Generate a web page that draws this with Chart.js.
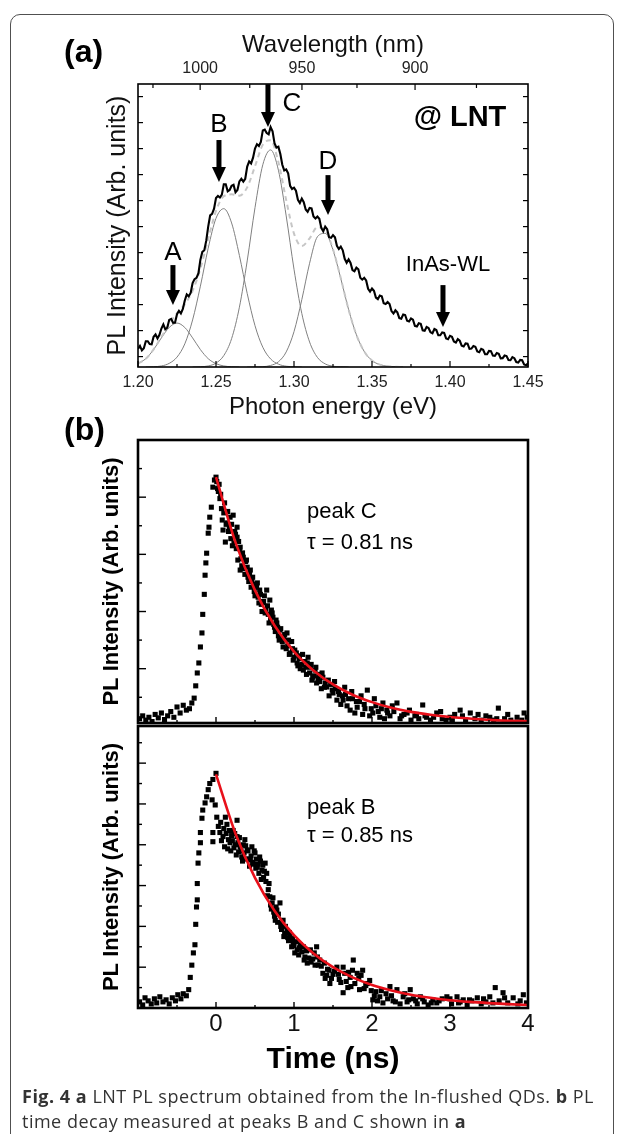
<!DOCTYPE html>
<html><head><meta charset="utf-8">
<script src="https://cdn.jsdelivr.net/npm/chart.js@4.4.0/dist/chart.umd.min.js"></script>
<style>
html,body{margin:0;padding:0;background:#fff;}
body{width:624px;height:1134px;position:relative;overflow:hidden;font-family:"Liberation Sans",Arial,sans-serif;}
canvas{position:absolute;left:0;top:0;width:624px;height:1134px;}
#box{position:absolute;left:10px;top:14px;width:604px;height:1160px;border:1.5px solid #505050;border-radius:10px;box-sizing:border-box;}
.plabel{position:absolute;font-weight:bold;font-size:32px;line-height:32px;color:#000;}
#caption{position:absolute;left:22px;top:1084px;font-family:"Open Sans",sans-serif;font-size:18px;letter-spacing:0.5px;line-height:25px;color:#333;white-space:nowrap;}
</style></head>
<body>
<div id="box"></div>
<canvas id="cA" width="624" height="1134"></canvas>
<canvas id="cB" width="624" height="1134"></canvas>
<canvas id="cC" width="624" height="1134"></canvas>
<div class="plabel" style="left:64px;top:35px">(a)</div>
<div class="plabel" style="left:64px;top:413px">(b)</div>
<div id="caption"><b>Fig. 4 a</b> LNT PL spectrum obtained from the In-flushed QDs. <b>b</b> PL<br>time decay measured at peaks B and C shown in <b>a</b></div>
<script>
// ---------------- Panel (a): PL spectrum ----------------
const energyEV = [
1.20000,1.20125,1.20250,1.20375,1.20500,1.20625,1.20750,1.20875,1.21000,1.21125,
1.21250,1.21375,1.21500,1.21625,1.21750,1.21875,1.22000,1.22125,1.22250,1.22375,
1.22500,1.22625,1.22750,1.22875,1.23000,1.23125,1.23250,1.23375,1.23500,1.23625,
1.23750,1.23875,1.24000,1.24125,1.24250,1.24375,1.24500,1.24625,1.24750,1.24875,
1.25000,1.25125,1.25250,1.25375,1.25500,1.25625,1.25750,1.25875,1.26000,1.26125,
1.26250,1.26375,1.26500,1.26625,1.26750,1.26875,1.27000,1.27125,1.27250,1.27375,
1.27500,1.27625,1.27750,1.27875,1.28000,1.28125,1.28250,1.28375,1.28500,1.28625,
1.28750,1.28875,1.29000,1.29125,1.29250,1.29375,1.29500,1.29625,1.29750,1.29875,
1.30000,1.30125,1.30250,1.30375,1.30500,1.30625,1.30750,1.30875,1.31000,1.31125,
1.31250,1.31375,1.31500,1.31625,1.31750,1.31875,1.32000,1.32125,1.32250,1.32375,
1.32500,1.32625,1.32750,1.32875,1.33000,1.33125,1.33250,1.33375,1.33500,1.33625,
1.33750,1.33875,1.34000,1.34125,1.34250,1.34375,1.34500,1.34625,1.34750,1.34875,
1.35000,1.35125,1.35250,1.35375,1.35500,1.35625,1.35750,1.35875,1.36000,1.36125,
1.36250,1.36375,1.36500,1.36625,1.36750,1.36875,1.37000,1.37125,1.37250,1.37375,
1.37500,1.37625,1.37750,1.37875,1.38000,1.38125,1.38250,1.38375,1.38500,1.38625,
1.38750,1.38875,1.39000,1.39125,1.39250,1.39375,1.39500,1.39625,1.39750,1.39875,
1.40000,1.40125,1.40250,1.40375,1.40500,1.40625,1.40750,1.40875,1.41000,1.41125,
1.41250,1.41375,1.41500,1.41625,1.41750,1.41875,1.42000,1.42125,1.42250,1.42375,
1.42500,1.42625,1.42750,1.42875,1.43000,1.43125,1.43250,1.43375,1.43500,1.43625,
1.43750,1.43875,1.44000,1.44125,1.44250,1.44375,1.44500,1.44625,1.44750,1.44875,
1.45000];
const plIntensity = [
0.70,0.81,0.64,0.72,0.99,0.99,0.88,0.87,1.16,1.25,
1.10,1.24,1.48,1.64,1.45,1.51,1.81,1.85,1.70,1.71,
2.03,2.16,2.06,2.23,2.56,2.79,2.72,2.85,3.23,3.38,
3.43,3.61,4.13,4.43,4.49,4.86,5.40,5.83,5.89,6.09,
6.50,6.58,6.52,6.63,7.03,7.03,6.76,6.81,6.97,7.01,
6.72,6.81,7.14,7.24,7.13,7.24,7.71,7.91,7.83,8.05,
8.40,8.57,8.50,8.66,9.10,9.13,9.00,8.95,9.23,9.07,
8.61,8.44,8.47,8.19,7.78,7.56,7.60,7.45,6.97,6.85,
6.90,6.78,6.43,6.31,6.48,6.34,6.06,5.97,6.12,6.10,
5.79,5.71,5.79,5.70,5.35,5.22,5.40,5.30,4.99,4.97,
5.07,4.99,4.66,4.54,4.63,4.49,4.16,4.01,4.14,4.00,
3.73,3.68,3.82,3.76,3.43,3.36,3.43,3.33,3.01,2.90,
3.02,2.93,2.67,2.61,2.75,2.72,2.45,2.42,2.50,2.42,
2.15,2.06,2.18,2.10,1.88,1.86,2.02,2.00,1.78,1.75,
1.87,1.82,1.58,1.56,1.68,1.66,1.41,1.39,1.54,1.50,
1.34,1.30,1.46,1.42,1.22,1.22,1.33,1.31,1.10,1.07,
1.20,1.16,0.98,0.94,1.07,1.01,0.82,0.79,0.91,0.90,
0.70,0.71,0.81,0.78,0.60,0.57,0.70,0.66,0.49,0.49,
0.62,0.61,0.44,0.43,0.54,0.51,0.33,0.34,0.44,0.42,
0.27,0.26,0.38,0.34,0.19,0.17,0.27,0.26,0.10,0.07,
0.14];
const fitEnergyEV = [1.200,1.205,1.210,1.215,1.220,1.225,1.230,1.235,1.240,1.245,1.250,1.255,1.260,1.265,1.270,1.275,1.280,1.285,1.290,1.295,1.300,1.305,1.310,1.315,1.320,1.325,1.330,1.335,1.340,1.345,1.350,1.355,1.360,1.365,1.370];
const peakA = [0.13,0.32,0.67,1.12,1.52,1.69,1.52,1.12,0.67,0.32,0.13,0.04,0.01,0.00,null,null,null,null,null,null,null,null,null,null,null,null,null,null,null,null,null,null,null,null,null];
const peakB = [null,0.00,0.01,0.04,0.14,0.38,0.89,1.81,3.11,4.57,5.72,6.09,5.54,4.29,2.83,1.59,0.76,0.31,0.11,0.03,0.01,0.00,null,null,null,null,null,null,null,null,null,null,null,null,null];
const peakC = [null,null,null,null,null,null,null,0.00,0.01,0.04,0.15,0.44,1.09,2.30,4.08,6.13,7.78,8.35,7.57,5.81,3.76,2.06,0.96,0.37,0.12,0.03,0.01,0.00,null,null,null,null,null,null,null];
const peakD = [null,null,null,null,null,null,null,null,null,null,null,null,null,null,0.00,0.00,0.01,0.06,0.20,0.58,1.36,2.59,3.99,5.01,5.14,4.50,3.40,2.21,1.24,0.60,0.25,0.09,0.03,0.01,0.00];
const peakSum = [0.13,0.32,0.68,1.16,1.66,2.07,2.41,2.93,3.79,4.93,6.00,6.57,6.64,6.59,6.91,7.72,8.55,8.72,7.88,6.42,5.13,4.65,4.95,5.38,5.26,4.53,3.41,2.21,1.24,0.60,0.25,0.09,0.03,0.01,0.00];
const energyTicks = [1.20,1.25,1.30,1.35,1.40,1.45];
const energyMinorTicks = [1.225,1.275,1.325,1.375,1.425];
const wavelengthLabels = [1000,950,900];
const wavelengthMinor = [1025,975,925,875];
const intensityTicksA = [0.4,1.4,2.4,3.4,4.4,5.4,6.4,7.4,8.4,9.4,10.4];
// annotations of panel (a), in data units: [energy, top, tip]
const arrowsA = [[1.2224,3.92,2.38],[1.2519,8.73,7.12],[1.2833,10.88,9.23],[1.3218,7.38,5.85],[1.3955,3.15,1.54]];
const labelsA = [['A',1.2224,4.38],['B',1.2519,9.31],['C',1.2987,10.12],['D',1.3218,7.88]];

// ---------------- Panel (b): time decays ----------------
const decayPeakC = [
[-0.98,0.25],[-0.94,0.35],[-0.90,0.20],[-0.86,0.30],[-0.82,0.15],[-0.78,0.40],[-0.74,0.28],[-0.70,0.45],[-0.66,0.22],[-0.62,0.35],[-0.58,0.50],[-0.54,0.30],[-0.50,0.66],[-0.46,0.45],[-0.42,0.72],[-0.38,0.55],[-0.34,0.60],[-0.31,0.80],
[-0.28,0.97],[-0.26,1.40],[-0.24,1.85],[-0.22,2.20],[-0.20,2.76],[-0.18,3.25],[-0.17,3.90],[-0.15,4.60],[-0.14,5.27],[-0.13,5.70],[-0.12,6.04],[-0.10,6.74],[-0.09,6.95],[-0.08,7.30],[-0.06,7.65],[-0.04,8.35],[-0.02,8.60],[0.00,8.70],
[0.01,8.55],[0.03,8.20],[0.04,8.45],[0.05,7.95],[0.07,7.60],[0.09,6.85],[0.10,7.45],[0.12,6.43],[0.13,7.05],[0.14,7.10],[0.16,6.80],[0.18,7.30],[0.19,6.55],[0.22,7.37],[0.23,6.40],[0.25,6.70],[0.27,6.95],[0.27,6.60],[0.28,5.80],[0.30,6.20],[0.31,6.25],[0.31,5.45],[0.33,5.60],[0.35,5.90],[0.37,5.30],[0.38,5.75],[0.40,5.55],[0.42,5.05],[0.44,5.45],[0.45,4.85],[0.47,5.20],[0.49,4.70],[0.51,4.95],[0.53,5.00],[0.54,4.50],[0.56,4.75],[0.58,4.25],[0.60,4.30],[0.62,4.55],[0.63,3.95],[0.65,4.75],[0.66,4.20],[0.69,4.40],[0.70,3.75],[0.72,3.95],[0.73,3.80],[0.75,3.45],[0.77,3.70],[0.78,3.60],[0.80,3.15],[0.82,3.35],[0.84,3.05],[0.86,2.76],[0.88,3.20],[0.91,3.25],[0.92,2.80],[0.95,2.55],[0.97,2.95],[0.99,2.30],[1.01,2.65],[1.04,2.20],[1.06,2.45],[1.08,2.00],[1.12,1.95],[1.14,2.25],[1.16,1.80],[1.18,2.40],[1.21,2.05],[1.23,1.60],[1.24,1.70],[1.27,1.95],[1.29,1.50],[1.32,1.80],[1.35,1.30],[1.37,1.70],[1.40,1.50],[1.42,1.36],[1.45,1.05],[1.47,1.45],[1.50,1.15],[1.53,1.30],[1.55,0.90],[1.58,1.10],[1.60,0.75],[1.63,0.90],[1.66,1.10],[1.68,0.70],[1.72,0.55],[1.75,0.95],[1.78,0.45],[1.81,0.65],[1.84,0.85],[1.88,0.40],[1.91,0.60],[1.94,1.25],[1.97,0.35],[2.01,0.45],[2.05,0.70],[2.10,0.30],[2.14,0.80],[2.16,0.25],[2.19,0.55],[2.23,0.35],[2.28,0.50],[2.32,0.80],[2.36,0.25],[2.41,0.40],[2.45,0.45],[2.50,0.20],[2.55,0.35],[2.60,0.25],[2.65,0.73],[2.70,0.30],[2.75,0.20],[2.83,0.45],[2.90,0.25],[2.95,0.20],[3.00,0.30],[3.06,0.40],[3.13,0.55],[3.20,0.20],[3.26,0.45],[3.32,0.25],[3.40,0.20],[3.46,0.35],[3.51,0.30],[3.56,0.20],[3.62,0.62],[3.70,0.25],[3.78,0.20],[3.86,0.30],[3.92,0.20],[3.99,0.30],
[0.02,8.30],[0.06,8.10],[0.08,7.20],[0.11,7.80],[0.15,7.50],[0.17,6.95],[0.20,7.05],[0.21,6.30],[0.24,6.80],[0.26,6.20],[0.29,6.45],[0.32,5.85],[0.34,6.05],[0.36,5.50],[0.39,5.80],[0.41,5.20],[0.43,5.35],[0.46,5.10],[0.48,4.95],[0.50,4.55],[0.52,4.85],[0.55,4.30],[0.57,4.60],[0.59,4.00],[0.61,4.35],[0.64,4.05],[0.67,3.90],[0.68,3.60],[0.71,4.05],[0.74,3.55],[0.76,3.30],[0.79,3.45],[0.81,3.00],[0.83,3.40],[0.85,2.95],[0.87,3.10],[0.90,2.70],[0.93,3.00],[0.94,2.50],[0.98,2.70],[1.00,2.40],[1.03,2.55],[1.05,2.10],[1.07,2.35],[1.10,2.15],[1.11,2.50],[1.15,2.05],[1.17,2.20],[1.20,1.85],[1.22,2.15],[1.26,1.75],[1.28,2.05],[1.31,1.65],[1.33,1.55],[1.36,1.85],[1.39,1.35],[1.44,1.60],[1.49,1.25],[1.52,1.55],[1.57,1.20],[1.62,1.05],[1.65,1.35],[1.70,0.95],[1.74,1.20],[1.80,0.85],[1.86,1.05],[1.90,0.75],[1.99,0.60],[2.03,0.95],[2.08,0.50],[2.12,0.60],[2.20,0.45],[2.26,0.70],[2.38,0.35],[2.48,0.55],[2.57,0.40],[2.68,0.35],[2.79,0.30],[2.88,0.50],[3.03,0.20],[3.16,0.35],[3.36,0.40],[3.60,0.25],[3.74,0.40],[3.95,0.45]];
const fitPeakC = [[0,8.70],[0.25,6.42],[0.5,4.74],[0.75,3.51],[1.0,2.60],[1.25,1.94],[1.5,1.45],[1.75,1.09],[2.0,0.83],[2.25,0.63],[2.5,0.49],[2.75,0.39],[3.0,0.31],[3.25,0.26],[3.5,0.21],[3.75,0.18],[4.0,0.16]];
const decayPeakB = [
[-0.98,0.30],[-0.94,0.15],[-0.91,0.50],[-0.87,0.35],[-0.83,0.20],[-0.79,0.45],[-0.76,0.25],[-0.72,0.55],[-0.68,0.30],[-0.64,0.40],[-0.60,0.20],[-0.56,0.50],[-0.52,0.35],[-0.49,0.65],[-0.45,0.45],[-0.42,0.70],[-0.38,0.60],[-0.35,0.90],[-0.33,1.50],
[-0.31,2.10],[-0.29,2.70],[-0.27,3.10],[-0.26,4.10],[-0.25,4.95],[-0.24,5.30],[-0.24,6.10],[-0.23,7.10],[-0.22,7.60],[-0.20,8.10],[-0.20,8.60],[-0.18,9.30],[-0.17,9.70],[-0.14,10.05],[-0.12,10.35],[-0.10,10.70],[-0.08,11.00],[-0.04,11.20],[0.00,11.50],[-0.05,10.20],[-0.01,9.95],[-0.04,8.60],[-0.04,8.15],
[0.01,9.35],[0.03,8.90],[0.05,8.60],[0.09,8.40],[0.12,9.35],[0.14,9.00],[0.16,8.25],[0.18,8.10],[0.20,8.45],[0.22,8.70],[0.25,8.00],[0.27,9.20],[0.27,8.40],[0.29,7.65],[0.31,7.90],[0.33,7.40],[0.35,8.00],[0.37,8.25],[0.40,7.75],[0.42,7.30],[0.44,7.25],[0.46,7.90],[0.48,7.05],[0.50,7.60],[0.53,6.90],[0.56,7.40],[0.59,6.75],[0.61,6.40],[0.63,7.10],[0.65,6.60],[0.67,5.80],[0.69,5.45],[0.72,5.15],[0.74,4.70],[0.76,4.30],[0.78,4.80],[0.82,5.15],[0.83,4.00],[0.85,4.15],[0.88,3.65],[0.91,3.80],[0.93,3.30],[0.95,3.50],[0.99,3.20],[1.01,2.70],[1.04,2.85],[1.08,3.10],[1.12,3.00],[1.14,2.50],[1.17,2.20],[1.21,2.85],[1.24,2.40],[1.29,3.00],[1.31,2.10],[1.33,2.35],[1.37,1.70],[1.40,1.45],[1.43,1.90],[1.46,1.20],[1.50,1.65],[1.55,2.00],[1.58,1.40],[1.63,2.00],[1.63,0.75],[1.67,1.30],[1.70,1.75],[1.73,1.05],[1.76,2.35],[1.81,1.70],[1.84,0.90],[1.88,1.85],[1.92,1.10],[1.97,1.35],[2.01,0.40],[2.05,0.80],[2.10,0.55],[2.14,0.25],[2.18,0.70],[2.23,1.05],[2.27,0.35],[2.32,0.90],[2.36,0.20],[2.40,0.55],[2.45,0.30],[2.49,0.90],[2.53,0.45],[2.58,0.20],[2.62,0.55],[2.67,0.30],[2.72,0.15],[2.78,0.40],[2.83,0.25],[2.90,0.45],[2.96,0.55],[3.02,0.20],[3.09,0.55],[3.13,0.30],[3.17,0.40],[3.22,0.15],[3.28,0.35],[3.35,0.50],[3.40,0.20],[3.46,0.30],[3.51,0.55],[3.58,1.00],[3.63,0.35],[3.68,0.75],[3.74,0.25],[3.81,0.50],[3.87,0.20],[3.94,0.65],[3.98,0.25],
[0.06,9.10],[0.07,8.20],[0.10,8.80],[0.11,7.90],[0.13,8.55],[0.15,7.80],[0.17,8.70],[0.19,7.70],[0.21,8.20],[0.23,7.85],[0.24,8.55],[0.26,7.50],[0.28,8.10],[0.30,8.35],[0.32,7.70],[0.34,7.20],[0.36,7.60],[0.38,7.95],[0.39,7.30],[0.41,7.70],[0.43,6.95],[0.45,7.45],[0.47,7.15],[0.49,7.70],[0.51,6.85],[0.52,7.30],[0.54,7.05],[0.55,6.60],[0.57,7.20],[0.58,6.30],[0.60,7.00],[0.62,6.70],[0.64,6.20],[0.66,5.50],[0.68,6.10],[0.70,5.05],[0.71,4.85],[0.73,5.40],[0.75,4.50],[0.77,4.95],[0.79,4.20],[0.80,4.60],[0.84,3.85],[0.86,4.30],[0.87,3.50],[0.89,4.00],[0.92,3.45],[0.94,3.70],[0.97,3.00],[0.98,3.40],[1.00,3.05],[1.03,3.25],[1.06,2.60],[1.07,2.95],[1.10,2.75],[1.13,2.35],[1.16,2.80],[1.19,2.45],[1.22,2.25],[1.26,2.70],[1.27,2.10],[1.30,2.50],[1.35,2.05],[1.39,2.20],[1.42,1.60],[1.45,1.85],[1.48,1.45],[1.52,1.80],[1.57,1.65],[1.60,1.25],[1.65,1.70],[1.69,1.00],[1.72,1.50],[1.75,1.85],[1.78,1.20],[1.83,1.45],[1.86,1.60],[1.90,0.95],[1.94,1.20],[1.99,0.85],[2.03,0.60],[2.07,0.35],[2.12,0.85],[2.20,0.45],[2.25,0.60],[2.30,0.30],[2.42,0.70],[2.47,0.40],[2.56,0.35],[2.65,0.45],[2.76,0.25],[2.86,0.35],[3.00,0.45],[3.11,0.25],[3.25,0.40],[3.43,0.45],[3.55,0.25],[3.70,0.50],[3.90,0.35]];
const fitPeakB = [[0,11.45],[0.25,8.54],[0.5,6.38],[0.75,4.77],[1.0,3.57],[1.25,2.67],[1.5,2.00],[1.75,1.50],[2.0,1.13],[2.25,0.86],[2.5,0.65],[2.75,0.50],[3.0,0.38],[3.25,0.30],[3.5,0.24],[3.75,0.19],[4.0,0.15]];
const timeTicks = [0,1,2,3,4];
const timeMinorTicks = [-0.5,0.5,1.5,2.5,3.5];
const decayTicksC = [1,2,3,4,5,6,7,8,9];
const decayTicksB = [1,2,3,4,5,6,7,8,9,10,11,12,13];
const labelsC = ['peak C','\u03C4 = 0.81 ns'];
const labelsB = ['peak B','\u03C4 = 0.85 ns'];

// ---------------- helpers ----------------
const FONT = '"Liberation Sans", Arial, Helvetica, sans-serif';
Chart.defaults.font.family = FONT;
Chart.defaults.color = '#111';
const HC = 1239.84; // eV*nm

function decor(spec) {
  return {
    id: 'decor',
    afterDatasetsDraw(chart) {
      const ctx = chart.ctx, a = chart.chartArea;
      const xs = chart.scales.x, ys = chart.scales.y;
      ctx.save();
      ctx.strokeStyle = '#000'; ctx.fillStyle = '#000';
      ctx.lineWidth = spec.tickWidth;
      spec.ticks.forEach(t => {
        t.values.forEach((v, i) => {
          const p = (t.axis === 'x' ? xs : ys).getPixelForValue(v);
          const len = typeof t.len === 'function' ? t.len(v, i) : t.len;
          ctx.beginPath();
          if (t.side === 'bottom') { ctx.moveTo(p, a.bottom); ctx.lineTo(p, a.bottom - len); }
          else if (t.side === 'top') { ctx.moveTo(p, a.top); ctx.lineTo(p, a.top + len); }
          else if (t.side === 'left') { ctx.moveTo(a.left, p); ctx.lineTo(a.left + len, p); }
          else { ctx.moveTo(a.right, p); ctx.lineTo(a.right - len, p); }
          ctx.stroke();
        });
      });
      (spec.arrows || []).forEach(ar => {
        const x = xs.getPixelForValue(ar[0]);
        const y0 = ys.getPixelForValue(ar[1]), y1 = ys.getPixelForValue(ar[2]);
        const hl = 15, hw = 14, sw = 5;
        ctx.fillRect(x - sw / 2, y0, sw, (y1 - hl) - y0 + 1);
        ctx.beginPath(); ctx.moveTo(x - hw / 2, y1 - hl); ctx.lineTo(x + hw / 2, y1 - hl); ctx.lineTo(x, y1); ctx.closePath(); ctx.fill();
      });
      (spec.texts || []).forEach(tx => {
        ctx.font = tx.font; ctx.textAlign = tx.align || 'center'; ctx.textBaseline = 'middle';
        ctx.fillStyle = '#000';
        ctx.fillText(tx.text, xs.getPixelForValue(tx.x), ys.getPixelForValue(tx.y));
      });
      ctx.lineWidth = spec.frameWidth;
      ctx.strokeRect(a.left, a.top, a.right - a.left, a.bottom - a.top);
      ctx.restore();
    }
  };
}
const noGrid = { display: false, drawTicks: false };
const noBorder = { display: false };

// ---------------- Chart (a) ----------------
const gaussStyle = { borderColor: '#808080', borderWidth: 1, pointRadius: 0, cubicInterpolationMode: 'monotone', spanGaps: false, fill: false };
new Chart(document.getElementById('cA'), {
  type: 'line',
  data: { datasets: [
    { data: energyEV.map((x, i) => ({ x, y: plIntensity[i] })), borderColor: '#000', borderWidth: 2.1, pointRadius: 0, tension: 0, order: 0 },
    { data: fitEnergyEV.map((x, i) => ({ x, y: peakSum[i] })), borderColor: '#c6c6c6', borderWidth: 2, borderDash: [5, 4], pointRadius: 0, cubicInterpolationMode: 'monotone', order: 1 },
    Object.assign({ data: fitEnergyEV.map((x, i) => ({ x, y: peakA[i] })), order: 2 }, gaussStyle),
    Object.assign({ data: fitEnergyEV.map((x, i) => ({ x, y: peakB[i] })), order: 2 }, gaussStyle),
    Object.assign({ data: fitEnergyEV.map((x, i) => ({ x, y: peakC[i] })), order: 2 }, gaussStyle),
    Object.assign({ data: fitEnergyEV.map((x, i) => ({ x, y: peakD[i] })), order: 2 }, gaussStyle)
  ]},
  options: {
    responsive: false, animation: false, events: [],
    layout: { padding: { left: 0, right: 96, top: 0, bottom: 707 } },
    plugins: { legend: { display: false }, tooltip: { enabled: false } },
    scales: {
      x: { type: 'linear', position: 'bottom', min: 1.2, max: 1.45,
        afterBuildTicks: s => { s.ticks = energyTicks.map(v => ({ value: v })); },
        afterFit: s => { s.height = 60; },
        grid: noGrid, border: noBorder,
        ticks: { autoSkip: false, maxRotation: 0, padding: 6, color: '#222', font: { size: 16 }, callback: v => Number(v).toFixed(2) },
        title: { display: true, text: 'Photon energy (eV)', color: '#111', font: { size: 24 }, padding: { top: 0, bottom: 5 } } },
      xTop: { type: 'linear', axis: 'x', position: 'top', min: 1.2, max: 1.45,
        afterBuildTicks: s => { s.ticks = wavelengthLabels.map(nm => ({ value: HC / nm })); },
        afterFit: s => { s.height = 84; },
        grid: noGrid, border: noBorder,
        ticks: { autoSkip: false, maxRotation: 0, padding: 6, color: '#222', font: { size: 16 }, callback: (v, i) => String(wavelengthLabels[i]) },
        title: { display: true, text: 'Wavelength (nm)', color: '#111', font: { size: 24 }, padding: { top: 31, bottom: 0 } } },
      y: { type: 'linear', position: 'left', min: 0, max: 10.885,
        afterFit: s => { s.width = 138; },
        grid: noGrid, border: noBorder, ticks: { display: false },
        title: { display: true, text: 'PL Intensity (Arb. units)', color: '#111', font: { size: 25 }, padding: { top: 103, bottom: 0 } } }
    }
  },
  plugins: [decor({
    tickWidth: 1.2, frameWidth: 1.6,
    ticks: [
      { axis: 'x', side: 'bottom', values: energyTicks, len: 6 },
      { axis: 'x', side: 'bottom', values: energyMinorTicks, len: 3 },
      { axis: 'x', side: 'top', values: wavelengthLabels.map(nm => HC / nm), len: 6 },
      { axis: 'x', side: 'top', values: wavelengthMinor.map(nm => HC / nm), len: 4 },
      { axis: 'y', side: 'left', values: intensityTicksA, len: 5 },
      { axis: 'y', side: 'right', values: intensityTicksA, len: 5 }
    ],
    arrows: arrowsA,
    texts: labelsA.map(l => ({ text: l[0], x: l[1], y: l[2], font: '26px ' + FONT }))
      .concat([{ text: '@ LNT', x: 1.4064, y: 9.58, font: 'bold 29px ' + FONT },
               { text: 'InAs-WL', x: 1.3987, y: 3.92, font: '22px ' + FONT }])
  })]
});

// ---------------- Charts (b) ----------------
function decayChart(id, pts, fit, ticksY, yMin, yMax, padTop, padBottom, showX, texts) {
  const scales = {
    x: { type: 'linear', min: -1, max: 4, display: showX,
      afterBuildTicks: s => { s.ticks = timeTicks.map(v => ({ value: v })); },
      afterFit: s => { s.height = showX ? 70 : 0; },
      grid: noGrid, border: noBorder,
      ticks: { autoSkip: false, maxRotation: 0, padding: 2, color: '#111', font: { size: 24 } },
      title: { display: true, text: 'Time (ns)', color: '#000', font: { size: 30, weight: 'bold' }, padding: { top: 0, bottom: 0 } } },
    y: { type: 'linear', min: yMin, max: yMax,
      afterFit: s => { s.width = 138; },
      grid: noGrid, border: noBorder, ticks: { display: false },
      title: { display: true, text: 'PL Intensity (Arb. units)', color: '#000', font: { size: 22, weight: 'bold' }, padding: { top: 99, bottom: 0 } } }
  };
  return new Chart(document.getElementById(id), {
    type: 'scatter',
    data: { datasets: [
      { data: fit.map(p => ({ x: p[0], y: p[1] })), showLine: true, borderColor: '#e8101a', borderWidth: 2.6, pointRadius: 0, cubicInterpolationMode: 'monotone', order: 0 },
      { data: pts.map(p => ({ x: p[0], y: p[1] })), pointStyle: 'rect', pointRadius: 3.6, backgroundColor: '#000', borderWidth: 0, order: 1 }
    ]},
    options: {
      responsive: false, animation: false, events: [],
      layout: { padding: { left: 0, right: 96, top: padTop, bottom: padBottom } },
      plugins: { legend: { display: false }, tooltip: { enabled: false } },
      scales
    },
    plugins: [decor({
      tickWidth: 1.4, frameWidth: 2.6,
      ticks: [
        { axis: 'y', side: 'left', values: ticksY, len: v => (v % 2 === 0 ? 8 : 4) },
        { axis: 'x', side: 'bottom', values: timeTicks, len: 6 },
        { axis: 'x', side: 'bottom', values: timeMinorTicks, len: 3 }
      ],
      texts
    })]
  });
}
decayChart('cB', decayPeakC, fitPeakC, decayTicksC, 0.1, 10.0, 440, 411, false, [
  { text: labelsC[0], x: 1.167, y: 7.48, font: '22px ' + FONT, align: 'left' },
  { text: labelsC[1], x: 1.167, y: 6.39, font: '22px ' + FONT, align: 'left' }
]);
decayChart('cC', decayPeakB, fitPeakB, decayTicksB, 0, 13.82, 726, 56, true, [
  { text: labelsB[0], x: 1.167, y: 9.80, font: '22px ' + FONT, align: 'left' },
  { text: labelsB[1], x: 1.167, y: 8.43, font: '22px ' + FONT, align: 'left' }
]);
</script>
</body></html>
